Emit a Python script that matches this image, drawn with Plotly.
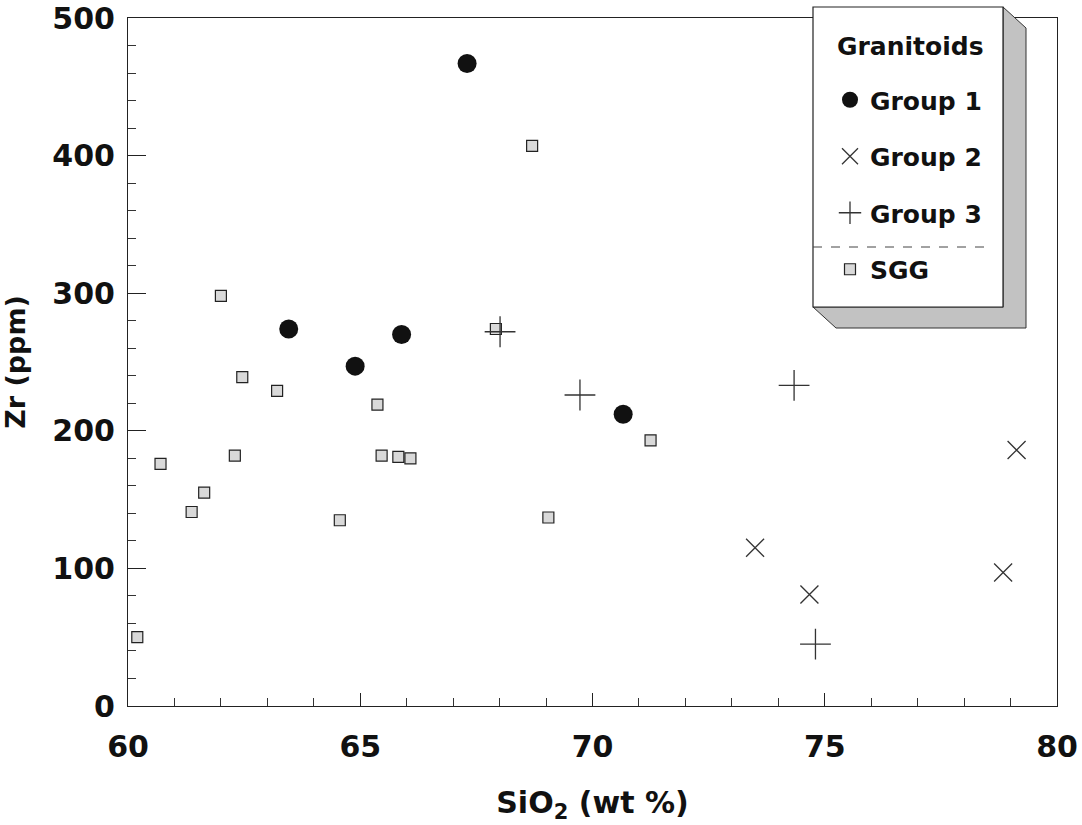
import plotly.graph_objects as go

# Granitoid Zr vs SiO2 data
g1_sio2 = [67.30, 63.46, 65.89, 64.89, 70.66]
g1_zr = [467, 274, 270, 247, 212]

g2_sio2 = [73.50, 74.67, 78.84, 79.13]
g2_zr = [115, 81, 97, 186]

g3_sio2 = [68.01, 69.73, 74.34, 74.80]
g3_zr = [272, 226, 233, 45]

sgg_sio2 = [60.20, 60.70, 61.37, 61.64, 62.00, 62.30, 62.46, 63.21, 64.56,
            65.37, 65.46, 65.82, 66.08, 67.92, 68.70, 69.05, 71.25]
sgg_zr = [50, 176, 141, 155, 298, 182, 239, 229, 135,
          219, 182, 181, 180, 274, 407, 137, 193]

x_range = [60, 80]
y_range = [0, 500]

FONT = "DejaVu Sans"

fig = go.Figure()

fig.add_trace(go.Scatter(
    x=sgg_sio2, y=sgg_zr, mode="markers", name="SGG",
    legendgroup="sgg", legendrank=4,
    marker=dict(symbol="square", size=11, color="#d9d9d9",
                line=dict(color="#222222", width=1.2)),
))
fig.add_trace(go.Scatter(
    x=g1_sio2, y=g1_zr, mode="markers", name="Group 1",
    legendgroup="g1", legendrank=1,
    marker=dict(symbol="circle", size=19, color="#111111",
                line=dict(color="#111111", width=0)),
))
fig.add_trace(go.Scatter(
    x=g2_sio2, y=g2_zr, mode="markers", name="Group 2",
    legendgroup="g2", legendrank=2,
    marker=dict(symbol="x-thin", size=18, color="#333333",
                line=dict(color="#333333", width=1.3)),
))
fig.add_trace(go.Scatter(
    x=g3_sio2, y=g3_zr, mode="markers", name="Group 3",
    legendgroup="g3", legendrank=3,
    marker=dict(symbol="cross-thin", size=22, color="#333333",
                line=dict(color="#333333", width=1.3)),
))

# plot area in pixels, used to place the legend panel
L, R, T, B = 128, 1057, 18, 706
W, H = R - L, B - T


def px(xp):
    return (xp - L) / W


def py(yp):
    return (B - yp) / H


# legend panel with a raised, shaded edge
bx0, bx1, by0, by1 = 813, 1003, 7, 307
dx, dy = 23, 21
shade_path = (
    f"M {px(bx1)},{py(by0)} L {px(bx1 + dx)},{py(by0 + dy)} "
    f"L {px(bx1 + dx)},{py(by1 + dy)} L {px(bx0 + dx)},{py(by1 + dy)} "
    f"L {px(bx0)},{py(by1)} L {px(bx1)},{py(by1)} Z"
)
shapes = [
    dict(type="path", xref="paper", yref="paper", path=shade_path,
         fillcolor="#c2c2c2", line=dict(color="#333333", width=1), layer="above"),
    dict(type="rect", xref="paper", yref="paper",
         x0=px(bx0), x1=px(bx1), y0=py(by1), y1=py(by0),
         fillcolor="white", line=dict(color="#222222", width=1.2), layer="above"),
    dict(type="line", xref="paper", yref="paper",
         x0=px(bx0), x1=px(990), y0=py(247), y1=py(247),
         line=dict(color="#444444", width=1, dash="dash"), layer="above"),
]

annotations = [
    dict(text="Granitoids", xref="paper", yref="paper",
         x=px(835), y=py(47), xanchor="left", yanchor="middle", showarrow=False,
         font=dict(family=FONT, size=25, color="#111111", weight="bold")),
]

axis_font = dict(family=FONT, size=30, color="#111111", weight="bold")

fig.update_layout(
    width=1082, height=825,
    margin=dict(l=L, r=1082 - R, t=T, b=825 - B, pad=0),
    paper_bgcolor="white", plot_bgcolor="white",
    shapes=shapes,
    annotations=annotations,
    showlegend=True,
    legend=dict(
        x=px(830), y=py(77), xanchor="left", yanchor="top",
        bgcolor="rgba(0,0,0,0)", borderwidth=0,
        font=dict(family=FONT, size=25, color="#111111", weight="bold"),
        traceorder="grouped", tracegroupgap=21,
        itemsizing="trace",
    ),
    xaxis=dict(
        range=x_range, tickvals=[60, 65, 70, 75, 80], automargin=False,
        ticks="inside", ticklen=13, tickwidth=1.2, tickcolor="#222222",
        minor=dict(dtick=1, ticks="inside", ticklen=8, tickwidth=1, tickcolor="#333333"),
        showgrid=False, zeroline=False,
        showline=True, linecolor="#222222", linewidth=1.2, mirror=True,
        tickfont=axis_font, ticklabelstandoff=14,
        title=dict(text="SiO<sub>2</sub> (wt %)",
                   font=dict(family=FONT, size=30, color="#111111", weight="bold"),
                   standoff=28),
    ),
    yaxis=dict(
        range=y_range, tickvals=[0, 100, 200, 300, 400, 500], automargin=False,
        ticks="inside", ticklen=18, tickwidth=1.2, tickcolor="#222222",
        minor=dict(dtick=20, ticks="inside", ticklen=8, tickwidth=1, tickcolor="#333333"),
        showgrid=False, zeroline=False,
        showline=True, linecolor="#222222", linewidth=1.2, mirror=True,
        tickfont=axis_font, ticklabelstandoff=6,
        title=dict(text="Zr (ppm)",
                   font=dict(family=FONT, size=27, color="#111111", weight="bold"),
                   standoff=20),
    ),
    yaxis2=dict(
        range=y_range, overlaying="y", side="right", automargin=False,
        tickvals=[0, 100, 200, 300, 400, 500], showticklabels=False,
        ticks="inside", ticklen=18, tickwidth=1.2, tickcolor="#222222",
        minor=dict(dtick=20, ticks="inside", ticklen=8, tickwidth=1, tickcolor="#333333"),
        showgrid=False, zeroline=False, showline=False,
    ),
)

fig.write_html("out.html")
